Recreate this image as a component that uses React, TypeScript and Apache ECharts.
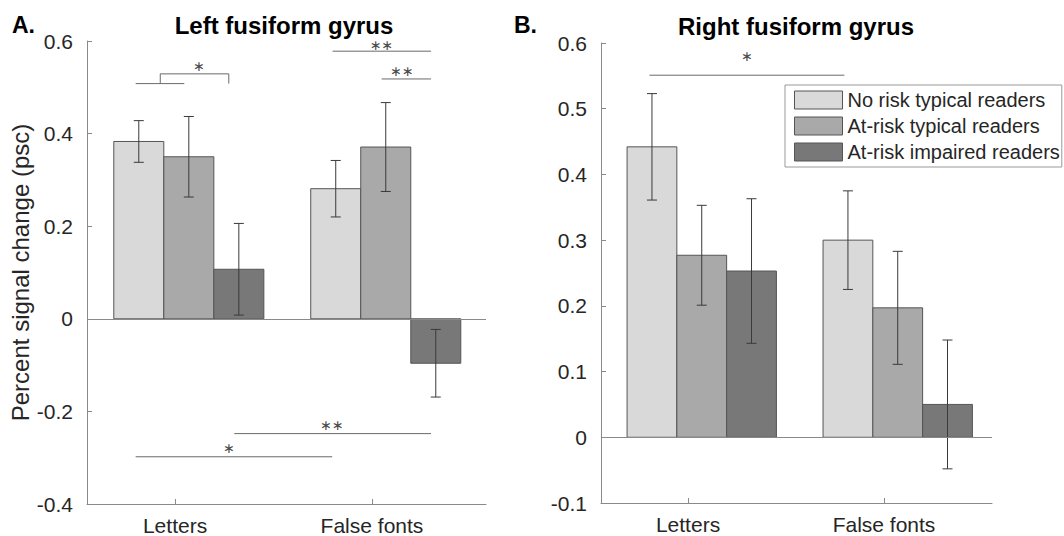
import React, { useEffect, useRef } from 'react';
import * as echarts from 'echarts';

// ---------- data ----------
const categories = ['Letters', 'False fonts'];
const groupNames = ['No risk typical readers', 'At-risk typical readers', 'At-risk impaired readers'];

const leftNoRisk = [0.383, 0.281];
const leftAtRiskTypical = [0.350, 0.371];
const leftAtRiskImpaired = [0.107, -0.096];
const leftErrNoRisk = [0.045, 0.061];
const leftErrAtRiskTypical = [0.087, 0.096];
const leftErrAtRiskImpaired = [0.099, 0.073];

const rightNoRisk = [0.442, 0.300];
const rightAtRiskTypical = [0.277, 0.197];
const rightAtRiskImpaired = [0.253, 0.050];
const rightErrNoRisk = [0.081, 0.075];
const rightErrAtRiskTypical = [0.076, 0.086];
const rightErrAtRiskImpaired = [0.110, 0.098];

// significance annotations (x in category units, y in psc)
const leftSigLines = [
  [[0.80, 0.508], [1.047, 0.508]],
  [[0.925, 0.508], [0.925, 0.529], [1.273, 0.529], [1.273, 0.508]],
  [[1.80, 0.578], [2.30, 0.578]],
  [[2.049, 0.518], [2.30, 0.518]],
  [[1.301, -0.248], [2.30, -0.248]],
  [[0.80, -0.298], [1.798, -0.298]],
];
const leftSigLabels: [number, number, string][] = [
  [1.122, 0.547, '∗'],
  [2.049, 0.591, '∗∗'],
  [2.152, 0.536, '∗∗'],
  [1.797, -0.230, '∗∗'],
  [1.274, -0.280, '∗'],
];
const rightSigLines = [[[0.803, 0.551], [1.798, 0.551]]];
const rightSigLabels: [number, number, string][] = [[1.301, 0.580, '∗']];

// ---------- style ----------
const FONT = '"Liberation Sans", Arial, Helvetica, sans-serif';
const barColors = ['#d9d9d9', '#a9a9a9', '#787878'];
const AXIS = '#8a8a8a';
const TEXT = '#262626';
const BAR_W = 0.254;
const SHIFT = 0.07;

function barSeries(panel: number, j: number, means: number[], errs: number[]) {
  return {
    type: 'custom',
    name: groupNames[j],
    xAxisIndex: panel,
    yAxisIndex: panel,
    clip: false,
    itemStyle: { color: barColors[j] },
    encode: { x: 0, y: 1 },
    data: categories.map((_, i) => [i + 1, means[i], errs[i]]),
    renderItem: (params: any, api: any) => {
      const c = api.value(0);
      const v = api.value(1);
      const e = api.value(2);
      const cx = c + SHIFT + (j - 1) * BAR_W;
      const a = api.coord([cx - BAR_W / 2, v]);
      const b = api.coord([cx + BAR_W / 2, 0]);
      const top = api.coord([cx, v + e]);
      const bot = api.coord([cx, v - e]);
      const cap = 5;
      const ls = { stroke: '#3a3a3a', lineWidth: 1 };
      return {
        type: 'group',
        children: [
          {
            type: 'rect',
            shape: {
              x: Math.min(a[0], b[0]),
              y: Math.min(a[1], b[1]),
              width: Math.abs(b[0] - a[0]),
              height: Math.abs(b[1] - a[1]),
            },
            style: { fill: barColors[j], stroke: '#555', lineWidth: 1 },
          },
          { type: 'line', shape: { x1: top[0], y1: top[1], x2: bot[0], y2: bot[1] }, style: ls },
          { type: 'line', shape: { x1: top[0] - cap, y1: top[1], x2: top[0] + cap, y2: top[1] }, style: ls },
          { type: 'line', shape: { x1: bot[0] - cap, y1: bot[1], x2: bot[0] + cap, y2: bot[1] }, style: ls },
        ],
      };
    },
    markLine:
      j === 0
        ? {
            silent: true,
            symbol: 'none',
            label: { show: false },
            lineStyle: { color: AXIS, type: 'solid', width: 1 },
            data: [{ yAxis: 0 }],
          }
        : undefined,
  };
}

function sigSeries(panel: number, lines: number[][][], labels: [number, number, string][]) {
  return [
    {
      type: 'custom',
      xAxisIndex: panel,
      yAxisIndex: panel,
      clip: false,
      silent: true,
      data: lines.map((l) => l[0]),
      renderItem: (params: any, api: any) => {
        const pts = lines[params.dataIndex].map((p) => api.coord(p));
        return {
          type: 'polyline',
          shape: { points: pts },
          style: { stroke: '#6a6a6a', lineWidth: 1, fill: null },
        };
      },
    },
    {
      type: 'custom',
      xAxisIndex: panel,
      yAxisIndex: panel,
      clip: false,
      silent: true,
      data: labels.map((l) => [l[0], l[1]]),
      renderItem: (params: any, api: any) => {
        const l = labels[params.dataIndex];
        const p = api.coord([l[0], l[1]]);
        return {
          type: 'text',
          x: p[0],
          y: p[1],
          style: {
            text: l[2],
            fill: '#4a4a4a',
            fontSize: 14,
            fontFamily: '"DejaVu Sans", sans-serif',
            align: 'center',
            verticalAlign: 'middle',
          },
        };
      },
    },
  ];
}

function xAxis(grid: number, min: number, max: number) {
  return {
    type: 'value',
    gridIndex: grid,
    min,
    max,
    axisLine: { show: true, onZero: false, lineStyle: { color: AXIS, width: 1 } },
    axisTick: { show: true, inside: true, length: 5, customValues: [1, 2], lineStyle: { color: AXIS } },
    axisLabel: {
      show: true,
      customValues: [1, 2],
      formatter: (v: number) => categories[Math.round(v) - 1] ?? '',
      fontSize: 21,
      fontFamily: FONT,
      color: TEXT,
      margin: 11,
    },
    splitLine: { show: false },
  };
}

function yAxis(grid: number, min: number, max: number, interval: number, name?: string) {
  return {
    type: 'value',
    gridIndex: grid,
    min,
    max,
    interval,
    name,
    nameLocation: 'middle',
    nameGap: 51,
    nameTextStyle: { fontSize: 24, fontFamily: FONT, color: TEXT },
    axisLine: { show: true, onZero: false, lineStyle: { color: AXIS, width: 1 } },
    axisTick: { show: true, inside: true, length: 5, lineStyle: { color: AXIS } },
    axisLabel: {
      fontSize: 21,
      fontFamily: FONT,
      color: TEXT,
      margin: 14,
      formatter: (v: number) => String(Math.round(v * 10) / 10),
    },
    splitLine: { show: false },
  };
}

export default function App() {
  const ref = useRef<HTMLDivElement>(null);
  useEffect(() => {
    if (!ref.current) return;
    const chart = echarts.init(ref.current, undefined, { renderer: 'svg' });
    chart.setOption({
      animation: false,
      backgroundColor: '#ffffff',
      grid: [
        { left: 87, top: 41, width: 399, height: 463 },
        { left: 601, top: 43, width: 391, height: 460 },
      ],
      xAxis: [xAxis(0, 0.553, 2.579), xAxis(1, 0.556, 2.551)],
      yAxis: [
        yAxis(0, -0.4, 0.6, 0.2, 'Percent signal change (psc)'),
        yAxis(1, -0.1, 0.6, 0.1),
      ],
      legend: {
        show: true,
        orient: 'vertical',
        left: 785,
        top: 85,
        data: groupNames.map((n) => ({ name: n, icon: 'rect' })),
        itemWidth: 48,
        itemHeight: 18,
        itemGap: 6,
        padding: [5, 2, 5, 9],
        borderColor: '#999',
        borderWidth: 1,
        selectedMode: false,
        itemStyle: { borderColor: '#555', borderWidth: 1 },
        textStyle: { fontSize: 20, fontFamily: FONT, color: TEXT, lineHeight: 18 },
      },
      graphic: [
        {
          type: 'text',
          x: 284,
          y: 25,
          style: { text: 'Left fusiform gyrus', fontSize: 24, fontWeight: 'bold', fontFamily: FONT, fill: '#000', align: 'center', verticalAlign: 'middle' },
        },
        {
          type: 'text',
          x: 796,
          y: 26,
          style: { text: 'Right fusiform gyrus', fontSize: 24, fontWeight: 'bold', fontFamily: FONT, fill: '#000', align: 'center', verticalAlign: 'middle' },
        },
        {
          type: 'text',
          x: 12,
          y: 25,
          style: { text: 'A.', fontSize: 23, fontWeight: 'bold', fontFamily: FONT, fill: '#000', align: 'left', verticalAlign: 'middle' },
        },
        {
          type: 'text',
          x: 514,
          y: 25,
          style: { text: 'B.', fontSize: 23, fontWeight: 'bold', fontFamily: FONT, fill: '#000', align: 'left', verticalAlign: 'middle' },
        },
      ],
      series: [
        barSeries(0, 0, leftNoRisk, leftErrNoRisk),
        barSeries(0, 1, leftAtRiskTypical, leftErrAtRiskTypical),
        barSeries(0, 2, leftAtRiskImpaired, leftErrAtRiskImpaired),
        barSeries(1, 0, rightNoRisk, rightErrNoRisk),
        barSeries(1, 1, rightAtRiskTypical, rightErrAtRiskTypical),
        barSeries(1, 2, rightAtRiskImpaired, rightErrAtRiskImpaired),
        ...sigSeries(0, leftSigLines, leftSigLabels),
        ...sigSeries(1, rightSigLines, rightSigLabels),
      ],
    });
    return () => chart.dispose();
  }, []);
  return <div ref={ref} style={{ position: 'fixed', left: 0, top: 0, width: 1064, height: 536 }} />;
}
